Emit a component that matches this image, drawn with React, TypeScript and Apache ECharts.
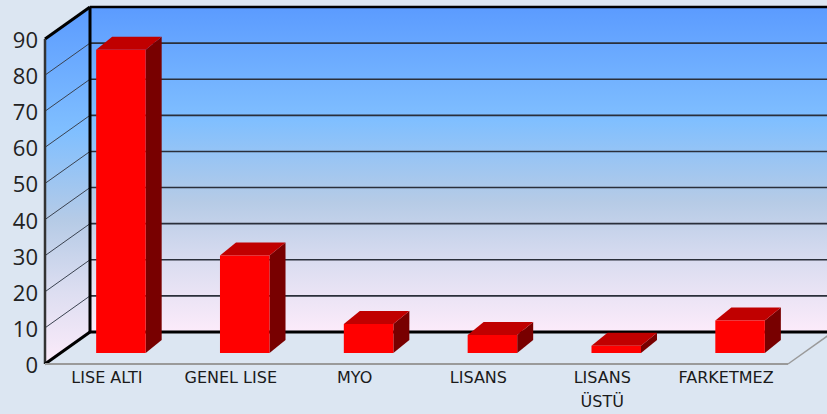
import React, { useEffect, useRef } from 'react';
import * as echarts from 'echarts';

const categories = ['LISE ALTI', 'GENEL LISE', 'MYO', 'LISANS', 'LISANS ÜSTÜ', 'FARKETMEZ'];
const values = [84, 27, 8, 5, 2, 9];
const yMin = 0;
const yMax = 90;
const yStep = 10;

const wallGradient = () =>
  new echarts.graphic.LinearGradient(0, 0, 0, 1, [
    { offset: 0, color: '#5B9BFF' },
    { offset: 0.35, color: '#80BFFF' },
    { offset: 0.6, color: '#B6CBE6' },
    { offset: 0.8, color: '#DDDEF1' },
    { offset: 1, color: '#FCEBFA' },
  ]);

export default function App() {
  const ref = useRef<HTMLDivElement>(null);
  useEffect(() => {
    document.body.style.margin = '0';
    const chart = echarts.init(ref.current!, null, { renderer: 'svg' });
    const DX = 45;
    const DY = -32;
    const BX = 14;
    const BY = -11;
    const BDX = 16;
    const BDY = -13;

    const wallsRender = (params: any, api: any) => {
      const cs = params.coordSys;
      const x0 = cs.x;
      const x1 = cs.x + cs.width;
      const y = (v: number) => api.coord([0, v])[1];
      const FL = (v: number) => [x0, y(v)];
      const FR = (v: number) => [x1, y(v)];
      const BL = (v: number) => [x0 + DX, y(v) + DY];
      const BR = (v: number) => [x1 + DX + 80, y(v) + DY];
      const children: any[] = [];
      children.push({
        type: 'polygon',
        shape: { points: [BL(yMin), BL(yMax), BR(yMax), BR(yMin)] },
        style: { fill: wallGradient() },
      });
      children.push({
        type: 'polygon',
        shape: { points: [FL(yMin), FL(yMax), BL(yMax), BL(yMin)] },
        style: { fill: wallGradient() },
      });
      for (let v = yMin + yStep; v < yMax; v += yStep) {
        children.push({
          type: 'line',
          shape: { x1: BL(v)[0], y1: BL(v)[1], x2: BR(v)[0], y2: BR(v)[1] },
          style: { stroke: '#2a2f3a', lineWidth: 1.6 },
        });
        children.push({
          type: 'line',
          shape: { x1: FL(v)[0], y1: FL(v)[1], x2: BL(v)[0], y2: BL(v)[1] },
          style: { stroke: '#3a4250', lineWidth: 1 },
        });
      }
      const ln = (a: number[], b: number[], stroke: string, w: number) => ({
        type: 'line',
        shape: { x1: a[0], y1: a[1], x2: b[0], y2: b[1] },
        style: { stroke, lineWidth: w },
      });
      children.push(ln(BL(yMax), BR(yMax), '#000', 2.5));
      children.push(ln(BL(yMin), BL(yMax), '#000', 3));
      children.push(ln(FL(yMax), BL(yMax), '#000', 3));
      children.push(ln(FL(yMin), FL(yMax), '#333', 2.5));
      children.push(ln(BL(yMin), BR(yMin), '#000', 3));
      children.push(ln(FL(yMin), BL(yMin), '#000', 3));
      children.push(ln(FL(yMin), FR(yMin), '#9a9a9a', 2));
      children.push(ln(FR(yMin), [x1 + DX, y(yMin) + DY], '#9a9a9a', 1.5));
      return { type: 'group', children };
    };

    const barsRender = (params: any, api: any) => {
      const i = api.value(0);
      const v = api.value(1);
      const base = api.coord([i, 0]);
      const top = api.coord([i, v]);
      const w = api.size([1, 0])[0] * 0.4;
      const l = base[0] - w / 2 + BX;
      const r = base[0] + w / 2 + BX;
      const yb = base[1] + BY;
      const yt = top[1] + BY;
      return {
        type: 'group',
        children: [
          {
            type: 'polygon',
            shape: { points: [[r, yt], [r, yb], [r + BDX, yb + BDY], [r + BDX, yt + BDY]] },
            style: { fill: '#780000' },
          },
          {
            type: 'polygon',
            shape: { points: [[l, yt], [r, yt], [r + BDX, yt + BDY], [l + BDX, yt + BDY]] },
            style: { fill: '#C00000' },
          },
          {
            type: 'rect',
            shape: { x: l, y: yt, width: r - l, height: yb - yt },
            style: { fill: '#FF0000' },
          },
        ],
      };
    };

    chart.setOption({
      animation: false,
      backgroundColor: '#DCE6F2',
      grid: { left: 45, top: 39, width: 743, height: 325, containLabel: false, outerBoundsMode: 'none' },
      xAxis: {
        type: 'category',
        data: categories,
        axisLine: { show: false },
        axisTick: { show: false },
        splitLine: { show: false },
        axisLabel: {
          interval: 0,
          margin: 1,
          fontSize: 16,
          lineHeight: 24,
          color: '#1a1a1a',
          fontFamily: 'DejaVu Sans',
          formatter: (s: string) => (s === 'LISANS ÜSTÜ' ? 'LISANS\nÜSTÜ' : s),
        },
      },
      yAxis: {
        type: 'value',
        min: yMin,
        max: yMax,
        interval: yStep,
        axisLine: { show: false },
        axisTick: { show: false },
        splitLine: { show: false },
        axisLabel: { margin: 7, fontSize: 22, color: '#222', fontFamily: 'Open Sans', padding: [0, 0, 3, 0] },
      },
      series: [
        {
          type: 'custom',
          renderItem: wallsRender,
          data: [[0, 0]],
          clip: false,
          silent: true,
          z: 1,
        },
        {
          type: 'custom',
          renderItem: barsRender,
          data: values.map((v, i) => [i, v]),
          clip: false,
          z: 2,
        },
      ],
    });
    return () => chart.dispose();
  }, []);
  return <div ref={ref} style={{ width: 827, height: 414 }} />;
}
